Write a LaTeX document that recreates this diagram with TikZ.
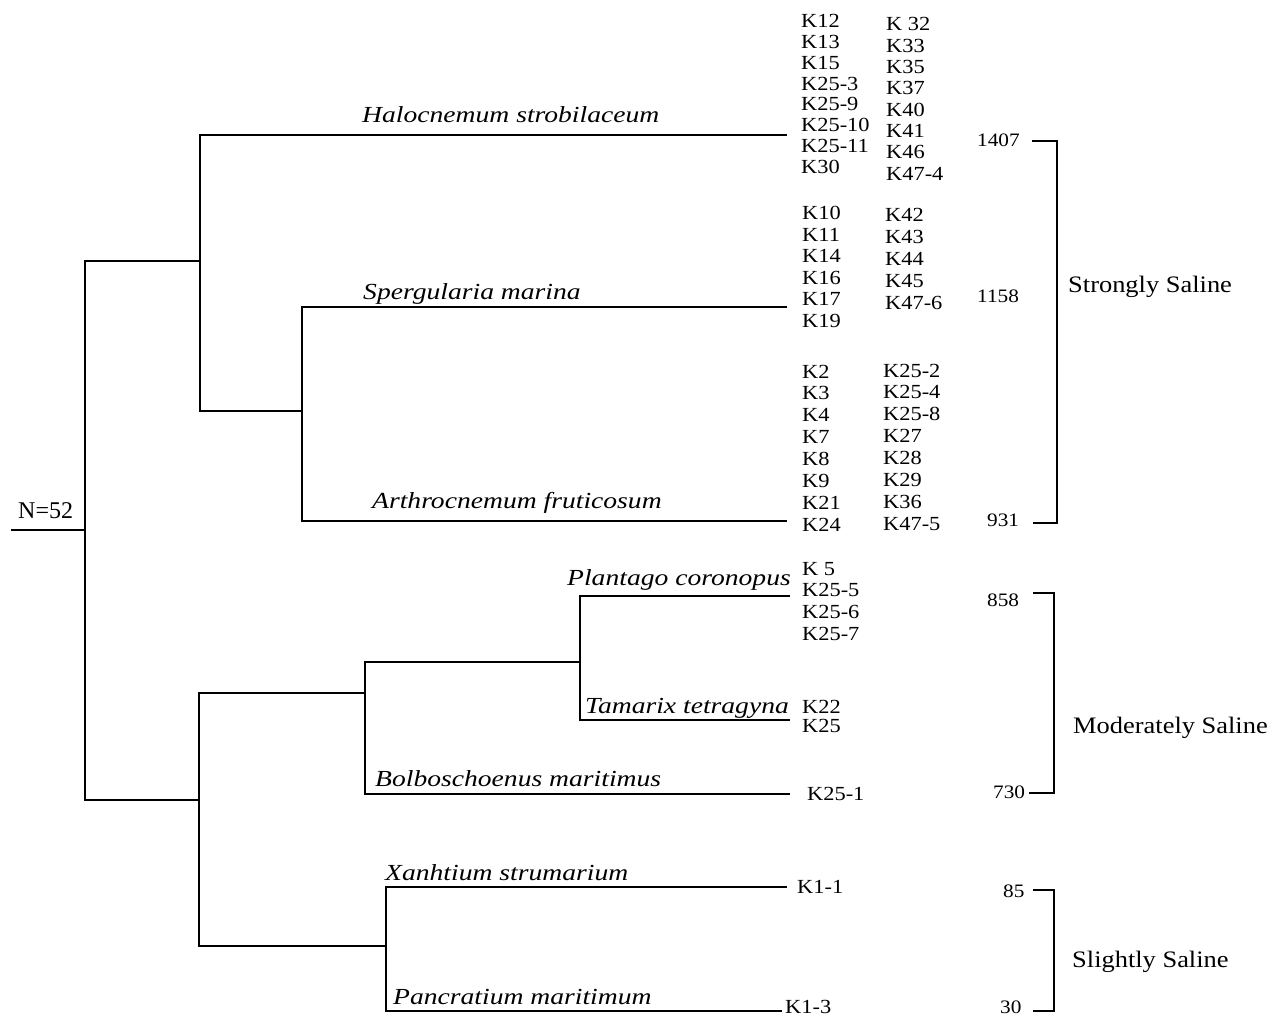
\documentclass[tikz,border=0pt]{standalone}
\usepackage{fontspec}
\setmainfont{Liberation Serif}[FakeStretch=1.12]
\newfontfamily\spfont{Liberation Serif}[FakeStretch=1.2]
\newfontfamily\plainfont{Liberation Serif}
\begin{document}
\begin{tikzpicture}[x=1pt,y=-1pt,
  tree/.style={line width=1.6pt, line join=miter},
  klab/.style={anchor=base west, inner sep=0pt, font=\fontsize{20}{22}\selectfont},
  sp/.style={anchor=base west, inner sep=0pt, font=\spfont\itshape\fontsize{23}{25}\selectfont},
  num/.style={anchor=base west, inner sep=0pt, font=\fontsize{19}{21}\selectfont},
  grp/.style={anchor=base west, inner sep=0pt, font=\fontsize{23.6}{26}\selectfont},
  nlab/.style={anchor=base west, inner sep=0pt, font=\plainfont\fontsize{24}{26}\selectfont}]
\useasboundingbox (0,0) rectangle (1274,1016);

% ---------- dendrogram coordinates ----------
\coordinate (s0) at (11,530);
\coordinate (r)  at (85,530);
\coordinate (rT) at (85,261);
\coordinate (rB) at (85,800);
\coordinate (aM) at (200,261);
\coordinate (aT) at (200,135);
\coordinate (aB) at (200,411);
\coordinate (bM) at (302,411);
\coordinate (bT) at (302,307);
\coordinate (bB) at (302,521);
\coordinate (Lh) at (787,135);
\coordinate (Ls) at (787,307);
\coordinate (La) at (787,521);
\coordinate (cM) at (199,800);
\coordinate (cT) at (199,693);
\coordinate (cB) at (199,946);
\coordinate (dM) at (365,693);
\coordinate (dT) at (365,662);
\coordinate (dB) at (365,794);
\coordinate (eM) at (580,662);
\coordinate (eT) at (580,596);
\coordinate (eB) at (580,720);
\coordinate (Lp) at (790,596);
\coordinate (Lt) at (790,720);
\coordinate (Lb) at (790,794);
\coordinate (fM) at (386,946);
\coordinate (fT) at (386,887);
\coordinate (fB) at (386,1011);
\coordinate (Lx) at (787,887);
\coordinate (Lc) at (782,1011);

\draw[tree] (s0) -- (r);
\draw[tree] (aM) -- (rT) -- (rB) -- (cM);
\draw[tree] (Lh) -- (aT) -- (aB) -- (bM);
\draw[tree] (Ls) -- (bT) -- (bB) -- (La);
\draw[tree] (dM) -- (cT) -- (cB) -- (fM);
\draw[tree] (eM) -- (dT) -- (dB) -- (Lb);
\draw[tree] (Lp) -- (eT) -- (eB) -- (Lt);
\draw[tree] (Lx) -- (fT) -- (fB) -- (Lc);

% ---------- brackets ----------
\coordinate (s1) at (1032,141);
\coordinate (s2) at (1057,141);
\coordinate (s3) at (1057,523);
\coordinate (s4) at (1033,523);
\coordinate (m1) at (1033,593);
\coordinate (m2) at (1054,593);
\coordinate (m3) at (1054,793);
\coordinate (m4) at (1029,793);
\coordinate (l1) at (1033,890);
\coordinate (l2) at (1054,890);
\coordinate (l3) at (1054,1011);
\coordinate (l4) at (1033,1011);
\draw[tree] (s1) -- (s2) -- (s3) -- (s4);
\draw[tree] (m1) -- (m2) -- (m3) -- (m4);
\draw[tree] (l1) -- (l2) -- (l3) -- (l4);

% ---------- root label ----------
\node[nlab] (N) at (18,518) {N=52};

% ---------- species labels ----------
\node[sp] (sp1) at (362,123) {Halocnemum strobilaceum};
\node[sp] (sp2) at (363,299) {Spergularia marina};
\node[sp] (sp3) at (372,508) {Arthrocnemum fruticosum};
\node[sp] (sp4) at (567,585) {Plantago coronopus};
\node[sp] (sp5) at (585,713) {Tamarix tetragyna};
\node[sp] (sp6) at (375,786) {Bolboschoenus maritimus};
\node[sp] (sp7) at (385,880) {Xanhtium strumarium};
\node[sp] (sp8) at (393,1004) {Pancratium maritimum};

% ---------- sample labels ----------
\foreach \t [count=\i] in {K12,K13,K15,K25-3,K25-9,K25-10,K25-11,K30}
  \node[klab] (ha\i) at (801,{28+20.75*(\i-1)}) {\t};
\foreach \t [count=\i] in {K 32,K33,K35,K37,K40,K41,K46,K47-4}
  \node[klab] (hb\i) at (886,{31+21.3*(\i-1)}) {\t};
\foreach \t [count=\i] in {K10,K11,K14,K16,K17,K19}
  \node[klab] (sa\i) at (802,{220+21.4*(\i-1)}) {\t};
\foreach \t [count=\i] in {K42,K43,K44,K45,K47-6}
  \node[klab] (sb\i) at (885,{222+21.9*(\i-1)}) {\t};
\foreach \t [count=\i] in {K2,K3,K4,K7,K8,K9,K21,K24}
  \node[klab] (aa\i) at (802,{378+21.9*(\i-1)}) {\t};
\foreach \t [count=\i] in {K25-2,K25-4,K25-8,K27,K28,K29,K36,K47-5}
  \node[klab] (ab\i) at (883,{377+21.9*(\i-1)}) {\t};
\foreach \t [count=\i] in {K 5,K25-5,K25-6,K25-7}
  \node[klab] (pa\i) at (802,{575+21.7*(\i-1)}) {\t};
\node[klab] (ta1) at (802,713) {K22};
\node[klab] (ta2) at (802,732) {K25};
\node[klab] (bo1) at (807,800) {K25-1};
\node[klab] (xa1) at (797,893) {K1-1};
\node[klab] (pc1) at (785,1013) {K1-3};

% ---------- salinity values ----------
\node[num] (v1) at (977,147) {1407};
\node[num] (v2) at (977,302) {1158};
\node[num] (v3) at (987,526) {931};
\node[num] (v4) at (987,606) {858};
\node[num] (v5) at (993,798) {730};
\node[num] (v6) at (1003,897) {85};
\node[num] (v7) at (1000,1013) {30};

% ---------- group labels ----------
\node[grp] (g1) at (1068,293) {Strongly Saline};
\node[grp] (g2) at (1073,733) {Moderately Saline};
\node[grp] (g3) at (1072,967) {Slightly Saline};
\end{tikzpicture}
\end{document}
